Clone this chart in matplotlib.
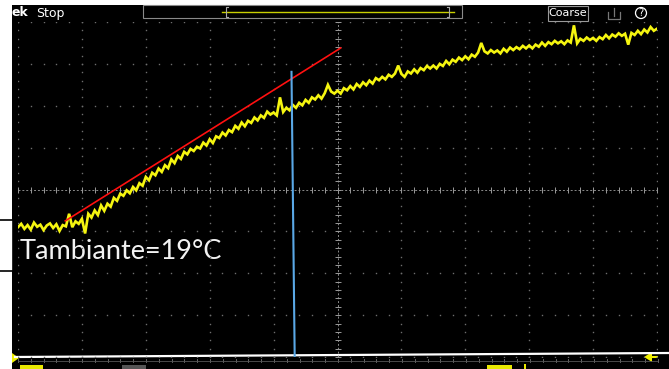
import numpy as np
import matplotlib
matplotlib.use("Agg")
import matplotlib.pyplot as plt
from matplotlib.patches import Rectangle, Circle, Polygon

# ---- data (oscilloscope divisions: x 0..10, y 0..8 from bottom) ----
x_step = 0.05
trace_y = [
    3.10, 3.18, 3.06, 3.15, 3.04, 3.21, 3.11, 3.16, 3.03, 3.14,
    3.19, 3.08, 3.17, 3.01, 3.15, 3.12, 3.42, 3.10, 3.24, 3.18,
    3.30, 2.95, 3.42, 3.33, 3.50, 3.39, 3.62, 3.49, 3.66, 3.59,
    3.80, 3.73, 3.90, 3.85, 3.98, 3.91, 4.06, 3.98, 4.15, 4.09,
    4.30, 4.22, 4.40, 4.34, 4.50, 4.42, 4.58, 4.51, 4.72, 4.63,
    4.80, 4.73, 4.90, 4.84, 4.97, 4.92, 5.02, 4.98, 5.12, 5.05,
    5.20, 5.11, 5.27, 5.23, 5.36, 5.29, 5.42, 5.37, 5.52, 5.45,
    5.60, 5.51, 5.64, 5.59, 5.72, 5.65, 5.77, 5.71, 5.86, 5.79,
    5.84, 5.77, 6.20, 5.85, 5.95, 5.89, 6.02, 5.95, 6.07, 6.01,
    6.14, 6.07, 6.20, 6.15, 6.25, 6.17, 6.30, 6.50, 6.34, 6.29,
    6.36, 6.29, 6.42, 6.37, 6.47, 6.39, 6.52, 6.45, 6.56, 6.49,
    6.60, 6.53, 6.66, 6.61, 6.69, 6.63, 6.74, 6.69, 6.77, 6.96,
    6.76, 6.69, 6.82, 6.77, 6.87, 6.79, 6.90, 6.85, 6.95, 6.89,
    6.96, 6.89, 7.00, 6.95, 7.07, 6.99, 7.10, 7.05, 7.15, 7.09,
    7.18, 7.11, 7.22, 7.17, 7.27, 7.50, 7.30, 7.25, 7.33, 7.27,
    7.32, 7.25, 7.36, 7.29, 7.39, 7.33, 7.40, 7.35, 7.43, 7.37,
    7.44, 7.37, 7.46, 7.41, 7.51, 7.43, 7.52, 7.47, 7.55, 7.49,
    7.54, 7.47, 7.56, 7.51, 7.92, 7.49, 7.60, 7.55, 7.63, 7.57,
    7.62, 7.55, 7.64, 7.59, 7.69, 7.61, 7.70, 7.65, 7.73, 7.67,
    7.72, 7.46, 7.74, 7.69, 7.79, 7.71, 7.82, 7.75, 7.88, 7.79, 7.84,
]
trace_x = [i * x_step for i in range(len(trace_y))]

tangent_x = [0.74, 5.05]
tangent_y = [3.25, 7.38]

cursor_x = [4.28, 4.33]
cursor_y = [6.81, 0.0]

label_text = "Tambiante=19°C"

W, H = 669, 369
fig = plt.figure(figsize=(W / 100, H / 100), dpi=100, facecolor="white")

# ---- background / decorations in pixel space ----
bg = fig.add_axes([0, 0, 1, 1])
bg.set_xlim(0, W)
bg.set_ylim(H, 0)
bg.axis("off")
bg.add_patch(Rectangle((12, 5), W - 12, H - 5, facecolor="black", edgecolor="none"))
# left label box outline
bg.add_patch(Rectangle((-5, 220), 18, 51, facecolor="white", edgecolor="black", lw=1.2))
# header
bg.text(12, 13, "ek", color="white", fontsize=9, fontweight="bold", va="center", ha="left")
bg.text(36, 13, "Stop", color="white", fontsize=9, va="center", ha="left")
bg.add_patch(Rectangle((143, 5), 319, 13, facecolor="none", edgecolor="#8a8a8a", lw=0.8))
bg.plot([222, 454], [12, 12], color="#c8cf00", lw=1.0)
bg.plot([228, 226, 226, 228], [7, 7, 17, 17], color="#aaaaaa", lw=0.8)
bg.plot([447, 449, 449, 447], [7, 7, 17, 17], color="#aaaaaa", lw=0.8)
bg.add_patch(Rectangle((548, 6), 40, 15, facecolor="none", edgecolor="#9a9a9a", lw=0.8))
bg.text(568, 13.5, "Coarse", color="white", fontsize=8, va="center", ha="center")
bg.plot([608, 608, 620, 620], [12, 19, 19, 12], color="#777777", lw=0.9)
bg.plot([614, 614], [8, 16], color="#777777", lw=0.9)
bg.add_patch(Circle((641, 13), 5.5, facecolor="none", edgecolor="white", lw=0.9))
bg.text(641, 13.5, "?", color="white", fontsize=7, va="center", ha="center")
# bottom ruler
bg.plot([15, W], [357, 353], color="white", lw=1.6)
for xx in np.arange(18, 660, 12.8):
    bg.plot([xx, xx], [359, 362], color="#777777", lw=0.6)
bg.plot([18, 657], [360.5, 360.5], color="#555555", lw=0.6)
bg.add_patch(Polygon([[12, 353], [12, 363], [19, 358]], closed=True, facecolor="#f0f000", edgecolor="none"))
bg.add_patch(Polygon([[644, 357], [652, 352], [652, 362]], closed=True, facecolor="#f0f000", edgecolor="none"))
bg.plot([652, 657], [357, 357], color="#f0f000", lw=1.5)
bg.add_patch(Rectangle((20, 365), 23, 5, facecolor="#e8e800", edgecolor="none"))
bg.add_patch(Rectangle((122, 365), 24, 5, facecolor="#555555", edgecolor="none"))
bg.add_patch(Rectangle((487, 365), 25, 5, facecolor="#e8e800", edgecolor="none"))
bg.add_patch(Rectangle((524, 364), 2, 6, facecolor="#e8e800", edgecolor="none"))

# ---- scope graticule axes ----
ax = fig.add_axes([18 / W, (H - 357) / H, 639 / W, 335 / H])
ax.set_xlim(0, 10)
ax.set_ylim(0, 8)
ax.set_facecolor("none")
ax.axis("off")

grid_col = "#6e6e6e"
minor_y = np.arange(0, 8.001, 0.2)
minor_x = np.arange(0, 10.001, 0.2)
for gx in range(0, 11):
    if gx == 5:
        continue
    ax.plot(np.full_like(minor_y, gx), minor_y, ls="none", marker="s", ms=1.0, color=grid_col, mew=0)
for gy in range(0, 9):
    if gy == 4:
        continue
    ax.plot(minor_x, np.full_like(minor_x, gy), ls="none", marker="s", ms=1.0, color=grid_col, mew=0)
# center crosshair
ax.plot([5, 5], [0, 8], color="#8a8a8a", lw=0.7, ls=(0, (2, 2)))
ax.plot([0, 10], [4, 4], color="#8a8a8a", lw=0.7, ls=(0, (2, 2)))
ax.plot(np.full_like(minor_y, 5), minor_y, ls="none", marker="_", ms=4, color="#9a9a9a", mew=0.7)
ax.plot(minor_x, np.full_like(minor_x, 4), ls="none", marker="|", ms=4, color="#9a9a9a", mew=0.7)

# trace, tangent, cursor
ax.plot(trace_x, trace_y, color="#f5f510", lw=1.9, solid_joinstyle="miter")
ax.plot(tangent_x, tangent_y, color="#ff1010", lw=1.2)
ax.plot(cursor_x, cursor_y, color="#5aa8e6", lw=1.5)

# label
bg.text(20, 259, label_text, color="#f2f2f2", fontsize=19.5, family=["Lato", "DejaVu Sans"],
        va="baseline", ha="left")

fig.savefig("out.png", dpi=100, facecolor="white")
